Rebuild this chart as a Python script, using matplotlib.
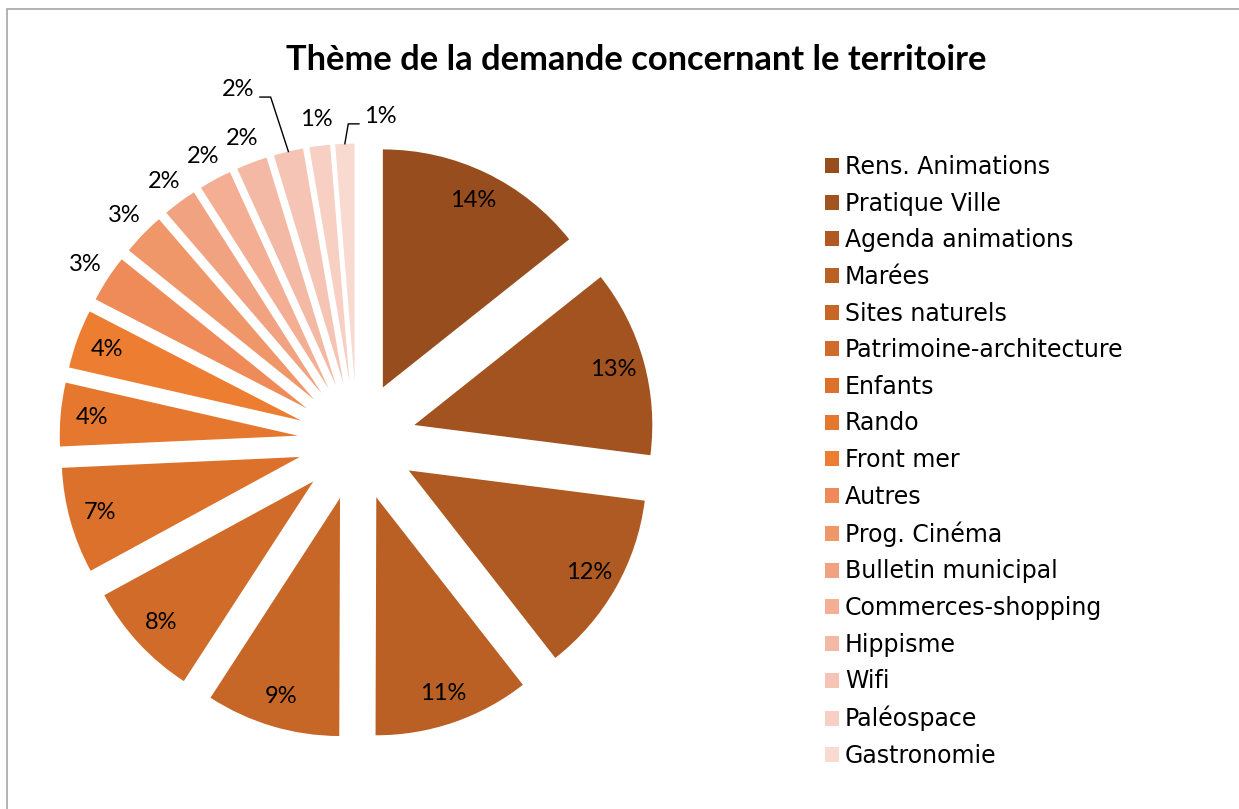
import numpy as np
import matplotlib.pyplot as plt
from matplotlib.patches import Rectangle

# data (share of requests, %)
themes = ["Rens. Animations", "Pratique Ville", "Agenda animations", "Marées",
          "Sites naturels", "Patrimoine-architecture", "Enfants", "Rando",
          "Front mer", "Autres", "Prog. Cinéma", "Bulletin municipal",
          "Commerces-shopping", "Hippisme", "Wifi", "Paléospace", "Gastronomie"]
shares = [14.3, 12.7, 12.4, 10.6, 9.1, 7.9, 7.2, 4.3, 4.0,
          3.2, 2.9, 2.3, 2.2, 2.1, 2.0, 1.4, 1.3]
shown_pct = ["14%", "13%", "12%", "11%", "9%", "8%", "7%", "4%", "4%",
             "3%", "3%", "2%", "2%", "2%", "2%", "1%", "1%"]

colors = ["#974D1E", "#A3531F", "#AF5A22", "#BA6024", "#C66627", "#D06B29",
          "#DC712C", "#E5772F", "#ED7D31", "#EE8B59", "#F0976A", "#F1A281",
          "#F3AE94", "#F4B9A5", "#F5C4B5", "#F7CFC3", "#F8DAD1"]

W, H = 1239, 809
fig = plt.figure(figsize=(W / 100, H / 100), dpi=100)

# grey chart frame (left and top edges visible)
fig.patches.append(Rectangle((7 / W, -0.1), 1.2, 1 - 9 / H + 0.1,
                             transform=fig.transFigure, fill=False,
                             edgecolor="#A6A6A6", linewidth=1.2))

# axes placed so that radius 1 = 238 px, centre at (357, 441)
R_PX = 238
half = 350
ax = fig.add_axes([(357 - half) / W, (H - 441 - half) / H, 2 * half / W, 2 * half / H])
wedges, _ = ax.pie(shares, colors=colors, startangle=90, counterclock=False,
                   explode=[0.25] * len(shares), radius=1,
                   wedgeprops=dict(linewidth=0))
lim = half / R_PX
ax.set_xlim(-lim, lim)
ax.set_ylim(-lim, lim)
ax.set_aspect("equal")
ax.axis("off")

label_font = dict(family="Lato", fontsize=17, color="black")

# label placement: inside for big slices, outside for small ones,
# two of them pushed out with a leader line
n_inside = 9
moved = {14: (1.31, 6.3, +1), 16: (1.12, -7.9, -1)}

for i, w in enumerate(wedges):
    cx, cy = w.center
    tm = np.deg2rad((w.theta1 + w.theta2) / 2)
    if i < n_inside:
        d = 0.87
        ax.text(cx + d * np.cos(tm), cy + d * np.sin(tm), shown_pct[i],
                ha="center", va="center", **label_font)
    elif i in moved:
        d, dth, side = moved[i]
        ta = tm + np.deg2rad(dth)
        lx, ly = cx + d * np.cos(ta), cy + d * np.sin(ta)
        ax.text(lx, ly, shown_pct[i], ha="center", va="center", **label_font)
        ex, ey = cx + np.cos(tm), cy + np.sin(tm)
        ax.plot([ex, lx + side * 0.135, lx + side * 0.09],
                [ey, ly - 0.032, ly - 0.032], color="black", lw=1)
    else:
        d = 1.11
        ax.text(cx + d * np.cos(tm), cy + d * np.sin(tm), shown_pct[i],
                ha="center", va="center", **label_font)

fig.text(636 / W, 1 - 60 / H, "Thème de la demande concernant le territoire",
         ha="center", va="center", family="Lato", fontweight="bold",
         fontsize=24.8, color="black")

handles = [Rectangle((0, 0), 1, 1, facecolor=c) for c in colors]
fig.legend(handles, themes, loc="upper left",
           bbox_to_anchor=(825 / W, 1 - 155 / H), frameon=False,
           prop=dict(family="DejaVu Sans", size=17),
           handlelength=0.6, handleheight=0.6, handletextpad=0.25,
           labelspacing=0.535, borderpad=0, borderaxespad=0)

fig.savefig("out.png", dpi=100)
